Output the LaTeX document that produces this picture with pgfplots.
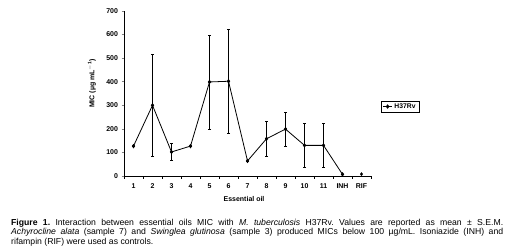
\documentclass[border=0pt]{standalone}
\usepackage{fontspec}
\setmainfont{Liberation Sans}
\usepackage{pgfplots}
\pgfplotsset{compat=1.18}
\begin{document}
\frenchspacing
\begin{tikzpicture}[x=1bp,y=1bp]
\path[use as bounding box] (0,0) rectangle (511,-251);
\begin{axis}[
  at={(124bp,-176bp)}, anchor=south west,
  scale only axis, width=247bp, height=165bp,
  xmin=0.5, xmax=13.5, ymin=0, ymax=700,
  axis lines=left, axis line style={-, line width=0.8bp},
  xtick={1,...,13},
  xticklabels={1,2,3,4,5,6,7,8,9,10,11,INH,RIF},
  minor xtick={0.5,1.5,...,13.5},
  ytick={0,100,...,700},
  tick align=outside,
  major tick length=2.5bp, minor tick length=2.5bp,
  x tick style={draw=none},
  minor x tick style={draw=black, line width=0.6bp},
  y tick style={line width=0.6bp},
  /pgf/number format/assume math mode=true,
  ticklabel style={font=\fontsize{7}{8}\selectfont\bfseries},
  xticklabel style={yshift=-2bp},
  xlabel={Essential oil},
  xlabel style={font=\fontsize{7}{8}\selectfont\bfseries, at={(axis description cs:0.486,-0.137)}, anchor=center},
  ylabel={MIC (µg mL$^{\mathbf{-1}}$)},
  ylabel style={font=\fontsize{7}{8}\selectfont\bfseries, at={(axis description cs:-0.13,0.56)}, anchor=center, rotate=0},
  legend style={at={(axis description cs:1.040,0.421)}, anchor=west,
    font=\fontsize{6.8}{8}\selectfont\bfseries, draw=black, line width=0.6bp,
    inner xsep=1.5bp, inner ysep=0.5bp},
  legend image code/.code={\draw[#1, mark repeat=2, mark phase=2] plot coordinates {(0bp,0bp) (4.5bp,0bp) (9bp,0bp)};},
  clip=false,
]
\addplot[black, line width=0.8bp, mark=diamond*, mark size=1.6bp,
  error bars/.cd, y dir=both, y explicit,
  error bar style={line width=0.6bp},
  error mark options={rotate=90, mark size=1.5bp, line width=0.6bp}]
  coordinates {
  (1,127) +- (0,0)
  (2,300) +- (0,216)
  (3,102) +- (0,35)
  (4,127) +- (0,0)
  (5,399) +- (0,200)
  (6,402) +- (0,220)
  (7,64) +- (0,0)
  (8,158) +- (0,73)
  (9,199) +- (0,72)
  (10,130) +- (0,95)
  (11,130) +- (0,95)
  (12,7) +- (0,0)
  };
\addlegendentry{H37Rv}
\addplot[black, only marks, mark=diamond*, mark size=1.6bp, forget plot]
  coordinates {(13,8)};
\end{axis}
\node[anchor=base west, inner sep=0pt] at (11,-225) {\parbox[t]{492bp}{\fontsize{8.7}{10}\selectfont
\textbf{Figure 1.} Interaction between essential oils MIC with \textit{M. tuberculosis} H37Rv. Values are reported as mean ± S.E.M.\linebreak
\textit{Achyrocline alata} (sample 7) and \textit{Swinglea glutinosa} (sample 3) produced MICs below 100 µg/mL. Isoniazide (INH) and\linebreak
rifampin (RIF) were used as controls.}};
\end{tikzpicture}
\end{document}
